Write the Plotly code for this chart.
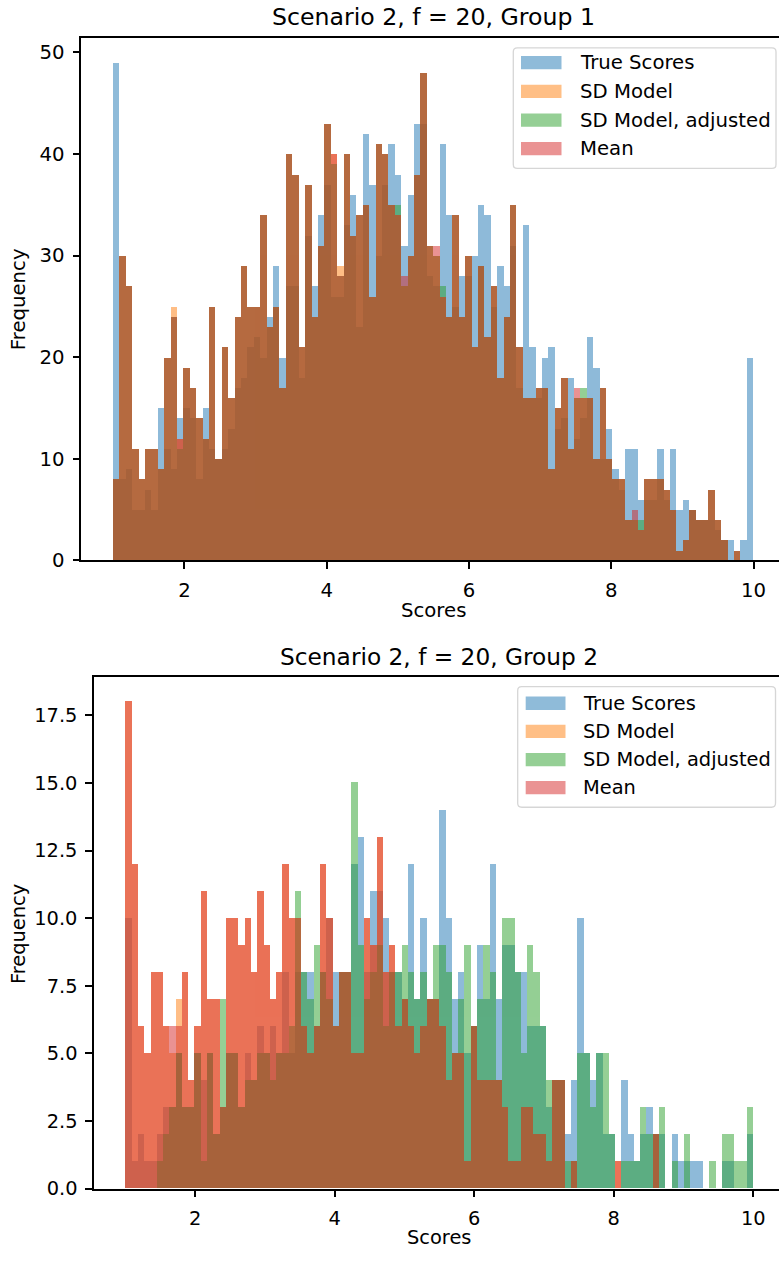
import plotly.graph_objects as go

W, H = 779, 1262
FONT = "DejaVu Sans"

# ---------------- data ----------------
BIN_LO, BIN_HI, NBINS = 1.0, 10.0, 100
series_names = ["True Scores", "SD Model", "SD Model, adjusted", "Mean"]
series_colors = ["#1f77b4", "#ff7f0e", "#2ca02c", "#d62728"]

g1_true = [49, 8, 9, 5, 5, 7, 5, 15, 11, 9,
           14, 15, 14, 8, 15, 11, 10, 11, 13, 17,
           18, 21, 22, 20, 24, 29, 20, 27, 27, 18,
           32, 27, 34, 37, 26, 26, 33, 36, 23, 42,
           37, 30, 37, 41, 38, 31, 36, 43, 43, 28,
           27, 41, 34, 25, 28, 28, 30, 35, 34, 25,
           29, 27, 31, 17, 33, 21, 16, 20, 21, 13,
           14, 18, 12, 14, 22, 19, 10, 13, 9, 7,
           11, 11, 6, 6, 6, 11, 6, 11, 5, 6,
           5, 4, 4, 4, 3, 2, 2, 0, 2, 20]
g1_sd = [8, 30, 27, 11, 8, 11, 11, 9, 20, 25,
         12, 19, 17, 14, 12, 25, 10, 21, 16, 24,
         29, 25, 25, 34, 23, 25, 17, 40, 38, 21,
         37, 24, 31, 43, 40, 29, 40, 32, 34, 35,
         26, 41, 40, 35, 34, 27, 30, 38, 48, 31,
         30, 26, 24, 34, 24, 30, 21, 29, 22, 27,
         18, 24, 35, 21, 16, 16, 17, 17, 9, 15,
         18, 11, 16, 16, 16, 10, 17, 10, 8, 8,
         4, 4, 3, 8, 8, 8, 7, 5, 1, 2,
         5, 4, 4, 7, 4, 2, 0, 1, 0, 0]
g1_adj = [8, 30, 27, 11, 8, 11, 11, 9, 20, 24,
          11, 19, 17, 14, 12, 25, 10, 21, 16, 24,
          29, 25, 25, 34, 23, 25, 17, 40, 38, 21,
          37, 24, 31, 43, 39, 28, 40, 32, 34, 35,
          26, 41, 40, 35, 35, 27, 30, 38, 48, 31,
          30, 27, 24, 34, 24, 30, 21, 29, 22, 27,
          18, 24, 35, 21, 16, 16, 17, 17, 9, 15,
          18, 11, 16, 17, 16, 10, 17, 10, 8, 8,
          4, 4, 4, 8, 8, 8, 7, 5, 1, 2,
          5, 4, 4, 7, 4, 2, 0, 1, 0, 0]
g1_mean = [8, 30, 27, 11, 8, 11, 11, 9, 20, 24,
           12, 19, 17, 14, 12, 25, 10, 21, 16, 24,
           29, 25, 25, 34, 23, 25, 17, 40, 38, 21,
           37, 24, 31, 43, 40, 28, 40, 32, 34, 35,
           26, 41, 40, 35, 34, 28, 30, 38, 48, 31,
           31, 26, 24, 34, 24, 30, 21, 29, 22, 27,
           18, 24, 35, 21, 16, 16, 17, 17, 9, 15,
           18, 11, 17, 16, 16, 10, 17, 10, 8, 8,
           4, 5, 3, 8, 8, 8, 7, 5, 1, 2,
           5, 4, 4, 7, 4, 2, 0, 1, 0, 0]

g2_true = [10, 1, 2, 1, 1, 2, 3, 3, 5, 3,
           3, 5, 4, 5, 2, 3, 5, 5, 3, 5,
           4, 6, 5, 6, 5, 8, 5, 8, 8, 8,
           6, 8, 10, 8, 8, 8, 12, 13, 8, 11,
           11, 10, 8, 8, 7, 12, 7, 10, 7, 7,
           14, 10, 7, 8, 5, 6, 9, 7, 12, 7,
           9, 9, 8, 8, 6, 6, 6, 3, 4, 4,
           2, 4, 10, 5, 4, 5, 2, 2, 0, 4,
           2, 1, 2, 3, 2, 2, 0, 2, 1, 1,
           1, 1, 0, 0, 0, 1, 1, 0, 0, 2]
g2_sd = [18, 12, 6, 5, 8, 8, 6, 5, 7, 8,
         4, 6, 11, 7, 7, 3, 10, 10, 9, 10,
         8, 11, 9, 7, 8, 12, 10, 10, 6, 5,
         6, 12, 10, 6, 8, 8, 5, 5, 10, 9,
         13, 8, 9, 6, 7, 6, 5, 6, 7, 7,
         6, 4, 5, 5, 1, 6, 4, 4, 4, 4,
         3, 1, 1, 3, 3, 2, 2, 1, 4, 4,
         0, 1, 0, 0, 0, 0, 0, 0, 1, 0,
         0, 0, 0, 0, 2, 0, 0, 0, 0, 0,
         0, 0, 0, 0, 0, 0, 0, 0, 0, 0]
g2_adj = [0, 0, 0, 0, 0, 1, 2, 3, 5, 3,
          3, 5, 1, 5, 2, 7, 5, 5, 3, 4,
          4, 5, 5, 4, 5, 5, 6, 11, 8, 7,
          9, 8, 7, 6, 8, 8, 15, 9, 7, 8,
          9, 6, 8, 8, 9, 8, 7, 8, 7, 9,
          9, 8, 5, 7, 9, 6, 7, 9, 8, 4,
          10, 10, 8, 5, 9, 8, 6, 4, 4, 4,
          1, 1, 5, 5, 3, 5, 5, 2, 0, 1,
          1, 1, 3, 2, 2, 3, 0, 1, 0, 2,
          0, 0, 0, 1, 0, 2, 2, 1, 1, 3]
g2_mean = [18, 12, 6, 5, 8, 8, 6, 6, 6, 8,
           4, 6, 11, 7, 7, 3, 10, 10, 9, 10,
           8, 11, 9, 7, 8, 12, 10, 10, 6, 5,
           6, 12, 10, 6, 8, 8, 5, 5, 10, 9,
           13, 8, 9, 6, 7, 6, 5, 6, 7, 7,
           6, 4, 5, 5, 1, 6, 4, 4, 4, 4,
           3, 1, 1, 3, 3, 2, 2, 1, 4, 4,
           0, 1, 0, 0, 0, 0, 0, 0, 1, 0,
           0, 0, 0, 0, 2, 0, 0, 0, 0, 0,
           0, 0, 0, 0, 0, 0, 0, 0, 0, 0]

titles = ["Scenario 2, f = 20, Group 1", "Scenario 2, f = 20, Group 2"]
x_label = "Scores"
y_label = "Frequency"
x_ticks = [2, 4, 6, 8, 10]
y1_ticks = [0, 10, 20, 30, 40, 50]
y2_ticks = [0, 2.5, 5, 7.5, 10, 12.5, 15, 17.5]
X_LIMITS = [0.55, 10.45]          # matplotlib default 5 % margins
Y1_MAX, Y2_MAX = 51.45, 18.9

# ---------------- helpers ----------------
bin_w = (BIN_HI - BIN_LO) / NBINS
centers = [BIN_LO + bin_w * (i + 0.5) for i in range(NBINS)]


def px(x):
    return x / W


def py(y):
    return 1 - y / H


# panel geometry in pixels (axes box may run past the right edge of the page)
P1 = dict(left=81.3, right_full=785.6, top=38, bottom=565.7, fs=19.7,
          title_y=17, xl_y=616, yl_x=18, yl_y=302, y_ticks=y1_ticks,
          y_max=Y1_MAX, fmt="{:g}")
P2 = dict(left=94.1, right_full=784.7, top=684, bottom=1200, fs=19.4,
          title_y=663, xl_y=1249, yl_x=18, yl_y=943, y_ticks=y2_ticks,
          y_max=Y2_MAX, fmt="{:.1f}")


def visible_xrange(p):
    ppu = (p["right_full"] - p["left"]) / (X_LIMITS[1] - X_LIMITS[0])
    hi = X_LIMITS[0] + (W - p["left"]) / ppu
    return [X_LIMITS[0], hi]


fig = go.Figure()
groups = [
    ([g1_true, g1_sd, g1_adj, g1_mean], "x", "y"),
    ([g2_true, g2_sd, g2_adj, g2_mean], "x2", "y2"),
]
for vals_list, xa, ya in groups:
    for vals, name, col in zip(vals_list, series_names, series_colors):
        fig.add_trace(go.Bar(
            x=centers, y=vals, width=bin_w, name=name,
            marker=dict(color=col, line=dict(width=0)),
            opacity=0.5, xaxis=xa, yaxis=ya, showlegend=False,
            hoverinfo="skip"))


def ax_style(fs):
    return dict(showline=True, linecolor="black", linewidth=1.5,
                ticks="outside", ticklen=7, tickwidth=1.5,
                tickcolor="black", showgrid=False, zeroline=False,
                tickfont=dict(family=FONT, size=fs, color="black"),
                fixedrange=True, ticklabelstandoff=4)


layout_axes = {}
for i, p in enumerate([P1, P2]):
    sfx = "" if i == 0 else "2"
    layout_axes["xaxis" + sfx] = dict(
        domain=[px(p["left"]), 1], range=visible_xrange(p),
        anchor="y" + sfx, tickvals=x_ticks, mirror=True, **ax_style(p["fs"]))
    layout_axes["yaxis" + sfx] = dict(
        domain=[py(p["bottom"]), py(p["top"])], range=[0, p["y_max"]],
        anchor="x" + sfx, tickvals=p["y_ticks"],
        ticktext=[p["fmt"].format(v) for v in p["y_ticks"]],
        **ax_style(p["fs"]))

fig.update_layout(
    width=W, height=H,
    margin=dict(l=0, r=0, t=0, b=0),
    paper_bgcolor="white", plot_bgcolor="white",
    barmode="overlay", bargap=0,
    showlegend=False,
    **layout_axes,
)

annotations = []
shapes = []

# titles and axis labels (centred on the full axes box)
for p, title in zip([P1, P2], titles):
    cx = (p["left"] + p["right_full"]) / 2
    annotations.append(dict(text=title, x=px(cx), y=py(p["title_y"]),
                            xref="paper", yref="paper", showarrow=False,
                            xanchor="center", yanchor="middle",
                            font=dict(family=FONT, size=p["fs"] * 1.2,
                                      color="black")))
    annotations.append(dict(text=x_label, x=px(cx), y=py(p["xl_y"]),
                            xref="paper", yref="paper", showarrow=False,
                            xanchor="center", yanchor="middle",
                            font=dict(family=FONT, size=p["fs"],
                                      color="black")))
    annotations.append(dict(text=y_label, x=px(p["yl_x"]), y=py(p["yl_y"]),
                            xref="paper", yref="paper", showarrow=False,
                            xanchor="center", yanchor="middle", textangle=-90,
                            font=dict(family=FONT, size=p["fs"],
                                      color="black")))


def rounded_box(l, t, r, b, rad=4):
    x0, x1 = px(l), px(r)
    y0, y1 = py(b), py(t)
    rx, ry = rad / W, rad / H
    return (f"M {x0+rx},{y1} L {x1-rx},{y1} Q {x1},{y1} {x1},{y1-ry} "
            f"L {x1},{y0+ry} Q {x1},{y0} {x1-rx},{y0} "
            f"L {x0+rx},{y0} Q {x0},{y0} {x0},{y0+ry} "
            f"L {x0},{y1-ry} Q {x0},{y1} {x0+rx},{y1} Z")


# legends (box, swatches, labels)
for p, box, rows, sw_l, sw_r, txt_l in [
        (P1, (513.3, 48.3, 776.0, 170.0), [63.3, 92.3, 121.3, 150.0],
         521, 561.5, 577.7),
        (P2, (517.7, 693.3, 775.5, 815.0), [710.0, 738.3, 767.0, 795.3],
         525.7, 565.5, 581)]:
    shapes.append(dict(type="path", path=rounded_box(*box), xref="paper",
                       yref="paper", fillcolor="rgba(255,255,255,0.8)",
                       line=dict(color="rgba(204,204,204,0.8)", width=1.3),
                       layer="above"))
    for rc, name, col in zip(rows, series_names, series_colors):
        shapes.append(dict(type="rect", xref="paper", yref="paper",
                           x0=px(sw_l), x1=px(sw_r), y0=py(rc + 6.7),
                           y1=py(rc - 6.7), fillcolor=col, opacity=0.5,
                           line=dict(width=0), layer="above"))
        annotations.append(dict(text=name, x=px(txt_l), y=py(rc),
                                xref="paper", yref="paper", showarrow=False,
                                xanchor="left", yanchor="middle",
                                font=dict(family=FONT, size=p["fs"],
                                          color="black")))

fig.update_layout(annotations=annotations, shapes=shapes)
fig.write_html("out.html")
